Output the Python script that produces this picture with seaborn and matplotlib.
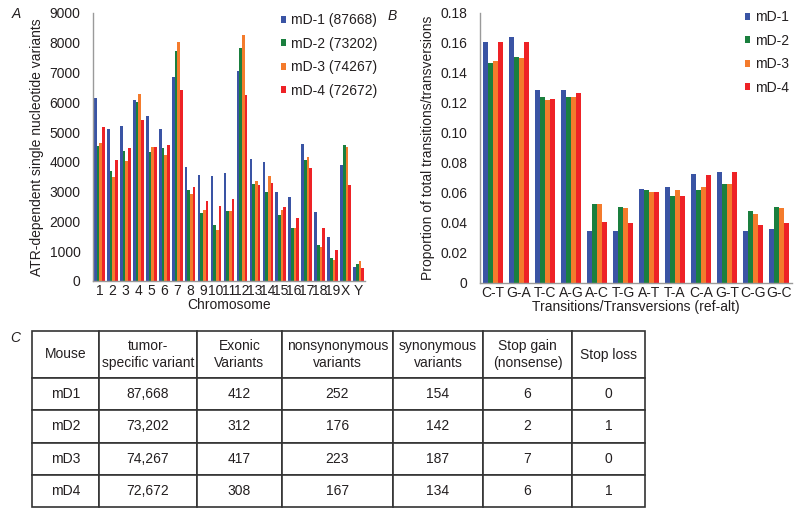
import pandas as pd
import matplotlib
matplotlib.use("Agg")
import matplotlib.pyplot as plt
import seaborn as sns
import numpy as np

# --- DATA ---
chromosomes = ["1", "2", "3", "4", "5", "6", "7", "8", "9", "10", "11", "12", "13",
               "14", "15", "16", "17", "18", "19", "X", "Y"]
mice = ["mD-1", "mD-2", "mD-3", "mD-4"]
mouse_totals = ["87668", "73202", "74267", "72672"]

snv_md1 = [6160, 5100, 5220, 6090, 5530, 5090, 6840, 3820, 3560, 3520, 3630, 7060, 4100,
           3990, 3000, 2830, 4600, 2330, 1470, 3900, 470]
snv_md2 = [4550, 3690, 4350, 6010, 4320, 4460, 7730, 3040, 2270, 1880, 2340, 7810, 3250,
           3000, 2210, 1780, 4060, 1200, 760, 4570, 560]
snv_md3 = [4650, 3500, 4020, 6280, 4500, 4240, 8030, 2910, 2390, 1720, 2360, 8270, 3350,
           3520, 2390, 1780, 4150, 1140, 690, 4510, 660]
snv_md4 = [5160, 4070, 4450, 5400, 4500, 4580, 6400, 3160, 2690, 2520, 2740, 6240, 3240,
           3300, 2490, 2100, 3800, 1780, 1040, 3240, 450]

substitutions = ["C-T", "G-A", "T-C", "A-G", "A-C", "T-G", "A-T", "T-A", "C-A", "G-T", "C-G", "G-C"]
prop_md1 = [0.161, 0.164, 0.129, 0.129, 0.035, 0.035, 0.063, 0.064, 0.073, 0.074, 0.035, 0.036]
prop_md2 = [0.147, 0.151, 0.124, 0.124, 0.053, 0.051, 0.062, 0.058, 0.062, 0.066, 0.048, 0.051]
prop_md3 = [0.148, 0.150, 0.122, 0.124, 0.053, 0.050, 0.061, 0.062, 0.064, 0.066, 0.046, 0.050]
prop_md4 = [0.161, 0.161, 0.123, 0.127, 0.041, 0.040, 0.061, 0.058, 0.072, 0.074, 0.039, 0.040]

table_header = ["Mouse", "tumor-\nspecific variant", "Exonic\nVariants", "nonsynonymous\nvariants",
                "synonymous\nvariants", "Stop gain\n(nonsense)", "Stop loss"]
table_mouse = ["mD1", "mD2", "mD3", "mD4"]
table_tumor = ["87,668", "73,202", "74,267", "72,672"]
table_exonic = ["412", "312", "417", "308"]
table_nonsyn = ["252", "176", "223", "167"]
table_syn = ["154", "142", "187", "134"]
table_stopgain = ["6", "2", "7", "6"]
table_stoploss = ["0", "1", "0", "1"]

COLORS = ["#3a54a4", "#1a7f3e", "#f47b2c", "#ee2226"]
TEXT = "#231f20"
SPINE = "#9a9a9a"
FS = 10

sns.set_style("white")
plt.rcParams['font.family'] = ['Liberation Sans', 'DejaVu Sans']
plt.rcParams['font.size'] = FS
plt.rcParams['text.color'] = TEXT
plt.rcParams['axes.labelcolor'] = TEXT
plt.rcParams['xtick.color'] = TEXT
plt.rcParams['ytick.color'] = TEXT


def long_frame(cats, series, names, col):
    rows = []
    for name, vals in zip(names, series):
        for c, v in zip(cats, vals):
            rows.append({"cat": c, "mouse": name, col: v})
    return pd.DataFrame(rows)


def style_axis(ax, n):
    sns.despine(ax=ax)
    for side in ["left", "bottom"]:
        ax.spines[side].set_color(SPINE)
        ax.spines[side].set_linewidth(1.0)
    ax.tick_params(axis="y", which="major", direction="out", length=3, color=SPINE, pad=6, labelsize=FS)
    ax.tick_params(axis="x", which="major", length=0, pad=2, labelsize=FS)
    ax.set_xticks(np.arange(n + 1) - 0.5, minor=True)
    ax.tick_params(axis="x", which="minor", direction="out", length=3, color=SPINE)
    ax.set_xlim(-0.5, n - 0.5)


fig = plt.figure(figsize=(8, 5.15), dpi=100)

# --- Panel A ---
axA = fig.add_axes([93 / 800, 1 - 281 / 515, 272 / 800, 268 / 515])
dfA = long_frame(chromosomes, [snv_md1, snv_md2, snv_md3, snv_md4],
                 [f"{m} ({t})" for m, t in zip(mice, mouse_totals)], "snv")
sns.barplot(data=dfA, x="cat", y="snv", hue="mouse", palette=COLORS, width=0.82, gap=0,
            saturation=1, errorbar=None, linewidth=0, ax=axA)
axA.set_ylim(0, 9000)
axA.set_yticks(range(0, 9001, 1000))
style_axis(axA, len(chromosomes))
axA.set_xlabel("Chromosome", fontsize=FS, labelpad=0)
axA.set_ylabel("ATR-dependent single nucleotide variants", fontsize=FS, labelpad=4)
axA.legend(loc="upper left", bbox_to_anchor=(0.67, 1.02), frameon=False, handlelength=0.4,
           handleheight=0.4, handletextpad=0.35, labelspacing=0.68, fontsize=FS, borderaxespad=0)

# --- Panel B ---
axB = fig.add_axes([480 / 800, 1 - 283 / 515, 312 / 800, 270 / 515])
dfB = long_frame(substitutions, [prop_md1, prop_md2, prop_md3, prop_md4], mice, "prop")
sns.barplot(data=dfB, x="cat", y="prop", hue="mouse", palette=COLORS, width=0.78, gap=0,
            saturation=1, errorbar=None, linewidth=0, ax=axB)
axB.set_ylim(0, 0.18)
axB.set_yticks(np.arange(0, 0.181, 0.02))
axB.set_yticklabels(["0"] + [f"{v:.2f}" for v in np.arange(0.02, 0.181, 0.02)])
style_axis(axB, len(substitutions))
axB.set_xlabel("Transitions/Transversions (ref-alt)", fontsize=FS, labelpad=0)
axB.set_ylabel("Proportion of total transitions/transversions", fontsize=FS, labelpad=4)
axB.legend(loc="upper left", bbox_to_anchor=(0.83, 1.03), frameon=False, handlelength=0.4,
           handleheight=0.4, handletextpad=0.35, labelspacing=0.68, fontsize=FS, borderaxespad=0)

# --- Panel C (table) ---
axC = fig.add_axes([32 / 800, 1 - 507 / 515, 613 / 800, 176 / 515])
axC.axis("off")
cell_text = [list(r) for r in zip(table_mouse, table_tumor, table_exonic, table_nonsyn,
                                  table_syn, table_stopgain, table_stoploss)]
col_w = np.array([67, 98, 85, 111, 90, 89, 73], dtype=float)
tbl = axC.table(cellText=cell_text, colLabels=table_header, colWidths=list(col_w / col_w.sum()),
                cellLoc="center", bbox=[0, 0, 1, 1])
tbl.auto_set_font_size(False)
tbl.set_fontsize(FS)
for (r, c), cell in tbl.get_celld().items():
    cell.set_edgecolor("#333333")
    cell.set_linewidth(1.2)
    cell.set_height(47 if r == 0 else 32.25)
    cell.get_text().set_color(TEXT)
    if r == 0:
        cell.get_text().set_linespacing(1.35)

# panel letters
fig.text(12 / 800, 1 - 14 / 515, "A", fontsize=FS, style="italic", va="center")
fig.text(388 / 800, 1 - 16 / 515, "B", fontsize=FS, style="italic", va="center")
fig.text(10 / 800, 1 - 338 / 515, "C", fontsize=FS, style="italic", va="center")

fig.savefig("out.png", dpi=100)
